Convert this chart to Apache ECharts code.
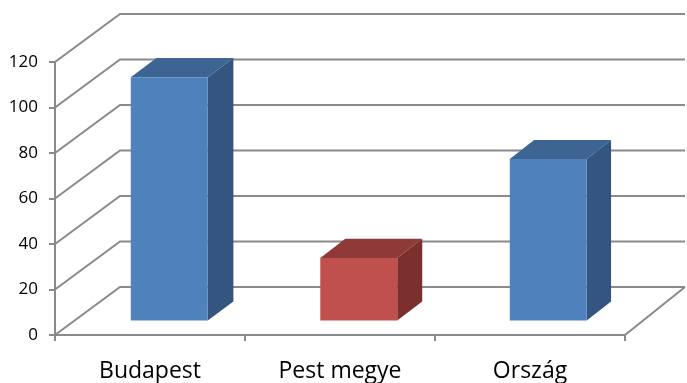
<!DOCTYPE html>
<html>
<head>
<meta charset="utf-8">
<script src="https://cdn.jsdelivr.net/npm/echarts@6/dist/echarts.min.js"></script>
<style>html,body{margin:0;padding:0;background:#fff;}#c{width:687px;height:383px;}</style>
</head>
<body>
<div id="c"></div>
<script>
// ---- data ----
var categories = ['Budapest', 'Pest megye', 'Ország'];
var values = [107, 27.5, 71];
var barColors = ['blue', 'red', 'blue'];
var yTicks = [0, 20, 40, 60, 80, 100, 120];

// ---- styling ----
var palette = {
  blue: { front: '#4F81BD', top: '#3D6492', side: '#34557F' },
  red:  { front: '#C0504D', top: '#8E3A38', side: '#7C302E' }
};
var GRID_COLOR = '#8A8A8A';
var FONT = '"Open Sans", "Noto Sans", sans-serif';
var DEPTH_Y = 48;           // vertical depth of floor (px)
function depthX(x, x0, x1) { // slight perspective: 65px at left, 60px at right
  return 65 - 5 * (x - x0) / (x1 - x0);
}
var BAR_FRONT = 0.3, BAR_BACK = 0.7, BAR_WIDTH = 0.405;

var chart = echarts.init(document.getElementById('c'), null, { renderer: 'canvas' });

var wallData = yTicks.map(function (v) { return [0, v]; });
var barData = values.map(function (v, i) { return [i + 0.5, v, i]; });

chart.setOption({
  animation: false,
  backgroundColor: '#ffffff',
  grid: { left: 55, right: 62, top: 62, bottom: 46 },
  xAxis: [{
    type: 'category',
    data: categories,
    boundaryGap: true,
    axisLine: { show: true, lineStyle: { color: GRID_COLOR, width: 2 } },
    axisTick: { show: true, length: 6, alignWithLabel: false, lineStyle: { color: GRID_COLOR, width: 2 } },
    axisLabel: { color: '#000', fontSize: 23, fontFamily: FONT, margin: 25 },
    splitLine: { show: false }
  }, {
    type: 'value', min: 0, max: 3, show: false
  }],
  yAxis: {
    type: 'value',
    min: 0, max: 120, interval: 20,
    axisLine: { show: true, lineStyle: { color: GRID_COLOR, width: 2 } },
    axisTick: { show: true, length: 6, lineStyle: { color: GRID_COLOR, width: 2 } },
    axisLabel: { color: '#000', fontSize: 17, fontFamily: FONT, margin: 17 },
    splitLine: { show: false }
  },
  series: [{
    type: 'custom',
    xAxisIndex: 1,
    z: 1,
    clip: false,
    silent: true,
    data: wallData,
    renderItem: function (params, api) {
      var v = api.value(1);
      var p = api.coord([0, v]);
      var pr = api.coord([3, v]);
      var x0 = p[0], x1 = pr[0];
      var dl = depthX(x0, x0, x1), dr = depthX(x1, x0, x1);
      var children = [{
        type: 'polyline',
        shape: { points: [[x0, p[1]], [x0 + dl, p[1] - DEPTH_Y], [x1 + dr, p[1] - DEPTH_Y]] },
        style: { stroke: GRID_COLOR, lineWidth: 2, fill: null }
      }];
      if (v === 0) {
        children.push({
          type: 'line',
          shape: { x1: x1, y1: pr[1], x2: x1 + dr, y2: pr[1] - DEPTH_Y },
          style: { stroke: GRID_COLOR, lineWidth: 2 }
        });
      }
      return { type: 'group', children: children };
    }
  }, {
    type: 'custom',
    xAxisIndex: 1,
    z: 5,
    clip: false,
    data: barData,
    renderItem: function (params, api) {
      var cx = api.value(0), v = api.value(1), idx = api.value(2);
      var c = palette[barColors[idx]];
      var base = api.coord([cx, 0]);
      var top = api.coord([cx, v]);
      var gl = api.coord([0, 0])[0], gr = api.coord([3, 0])[0];
      var catW = api.size([1, 0])[0];
      var hw = catW * BAR_WIDTH / 2;
      var dx = depthX(base[0], gl, gr);
      var fx = dx * BAR_FRONT, fy = DEPTH_Y * BAR_FRONT;
      var bx = dx * BAR_BACK, by = DEPTH_Y * BAR_BACK;
      var L = base[0] - hw, R = base[0] + hw;
      var yb = base[1], yt = top[1];
      var F = [[L + fx, yt - fy], [R + fx, yt - fy], [R + fx, yb - fy], [L + fx, yb - fy]];
      var T = [[L + fx, yt - fy], [L + bx, yt - by], [R + bx, yt - by], [R + fx, yt - fy]];
      var S = [[R + fx, yt - fy], [R + bx, yt - by], [R + bx, yb - by], [R + fx, yb - fy]];
      return {
        type: 'group',
        children: [
          { type: 'polygon', shape: { points: S }, style: { fill: c.side } },
          { type: 'polygon', shape: { points: T }, style: { fill: c.top } },
          { type: 'polygon', shape: { points: F }, style: { fill: c.front } }
        ]
      };
    }
  }]
});
</script>
</body>
</html>
